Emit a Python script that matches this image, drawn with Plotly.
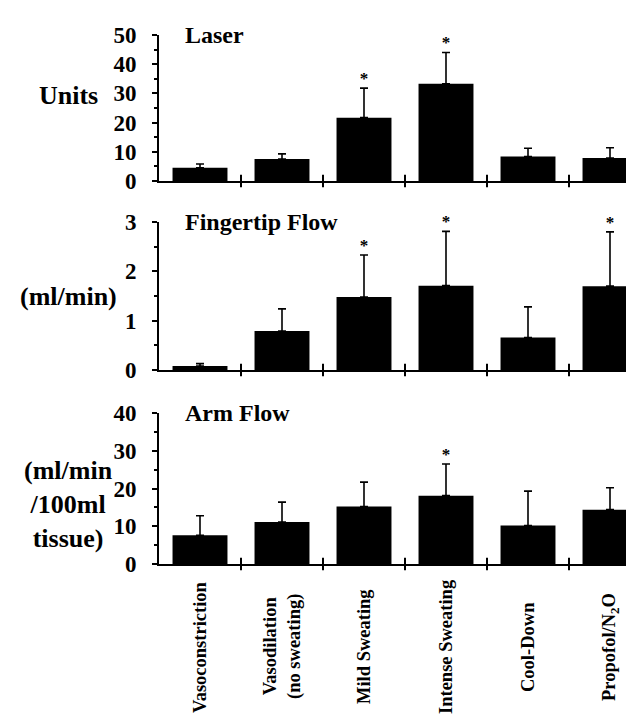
import plotly.graph_objects as go

# ---------------- data ----------------
categories = ["Vasoconstriction", "Vasodilation<br>(no sweating)", "Mild Sweating",
              "Intense Sweating", "Cool-Down", "Propofol/N<sub>2</sub>O"]

laser_mean = [4.5, 7.5, 21.7, 33.3, 8.4, 7.9]
laser_err = [1.3, 1.8, 10.1, 10.7, 2.8, 3.5]
laser_sig = [False, False, True, True, False, False]

finger_mean = [0.08, 0.79, 1.48, 1.71, 0.66, 1.70]
finger_err = [0.05, 0.45, 0.85, 1.10, 0.62, 1.10]
finger_sig = [False, False, True, True, False, True]

arm_mean = [7.6, 11.1, 15.2, 18.1, 10.2, 14.4]
arm_err = [5.2, 5.3, 6.5, 8.4, 9.1, 5.8]
arm_sig = [False, False, False, True, False, False]

panel_titles = ["Laser", "Fingertip Flow", "Arm Flow"]
y_titles = ["Units", "(ml/min)", "(ml/min<br>/100ml<br>tissue)"]
y_tickvals = [[0, 10, 20, 30, 40, 50], [0, 1, 2, 3], [0, 10, 20, 30, 40]]
y_minor = [5, 0.5, 5]

# ---------------- layout helpers ----------------
W, H = 634, 719
FONT = "'Liberation Serif', 'Times New Roman', 'DejaVu Serif', serif"
n = len(categories)
xpos = list(range(n))
boundaries = [i + 0.5 for i in range(n - 1)]

def ypx(px):
    return 1 - px / H

panels = [
    (laser_mean, laser_err, laser_sig, [ypx(173), ypx(27)]),
    (finger_mean, finger_err, finger_sig, [ypx(362), ypx(214)]),
    (arm_mean, arm_err, arm_sig, [ypx(556), ypx(405)]),
]

fig = go.Figure()
layout = dict(
    width=W, height=H,
    margin=dict(l=0, r=0, t=0, b=0),
    paper_bgcolor="white", plot_bgcolor="white",
    showlegend=False,
    font=dict(family=FONT, color="black"),
    annotations=[],
)

x_domain = [151 / W, 1.0]
x_range = [-0.5, -0.5 + (W - 151) / 82.0]

for k, (mean, err, sig, ydom) in enumerate(panels):
    sfx = "" if k == 0 else str(k + 1)
    xa, ya = "x" + sfx, "y" + sfx
    fig.add_trace(go.Bar(
        x=xpos, y=mean, xaxis=xa, yaxis=ya,
        width=0.67, marker=dict(color="black", line=dict(width=0)),
        error_y=dict(type="data", symmetric=False, array=err,
                     arrayminus=[0] * n, color="black", thickness=1.6, width=4),
    ))
    # significance stars
    sx = [x for x, s in zip(xpos, sig) if s]
    sy = [m + e for m, e, s in zip(mean, err, sig) if s]
    fig.add_trace(go.Scatter(
        x=sx, y=sy, xaxis=xa, yaxis=ya, mode="text", text=["*"] * len(sx),
        textposition="top center",
        textfont=dict(family=FONT, size=17, color="black", weight="bold"),
        cliponaxis=False,
    ))
    # category boundary ticks crossing the x axis
    fig.add_trace(go.Scatter(
        x=boundaries, y=[0] * len(boundaries), xaxis=xa, yaxis=ya, mode="markers",
        marker=dict(symbol="line-ns", size=9, line=dict(width=2, color="black")),
        cliponaxis=False,
    ))
    top = y_tickvals[k][-1]
    layout["xaxis" + sfx] = dict(
        domain=x_domain, range=x_range, anchor=ya,
        showline=True, linecolor="black", linewidth=2,
        showticklabels=False, ticks="", showgrid=False, zeroline=False,
        automargin=False, fixedrange=True,
    )
    layout["yaxis" + sfx] = dict(
        domain=ydom, range=[0, top], anchor=xa,
        showline=True, linecolor="black", linewidth=2,
        tickvals=y_tickvals[k], ticks="outside", ticklen=5, tickwidth=2,
        tickcolor="black", ticklabelstandoff=11,
        tickfont=dict(family=FONT, size=23, color="black", weight="bold"),
        minor=dict(dtick=y_minor[k], ticks="outside", ticklen=3, tickwidth=1.5,
                   tickcolor="black"),
        showgrid=False, zeroline=False, automargin=False, fixedrange=True,
    )
    layout["annotations"].append(dict(
        text=panel_titles[k], xref="paper", yref=ya, x=175 / W, y=top,
        xanchor="left", yanchor="middle", showarrow=False,
        font=dict(family=FONT, size=24, color="black", weight="bold"),
    ))

# y-axis titles
title_y = [88, 288, 496]
for k, t in enumerate(y_titles):
    layout["annotations"].append(dict(
        text=t, xref="paper", yref="paper", x=60 / W, y=ypx(title_y[k]),
        xanchor="center", yanchor="middle", showarrow=False, align="center",
        font=dict(family=FONT, size=26, color="black", weight="bold"),
    ))

# category labels under the bottom panel
for i, c in enumerate(categories):
    layout["annotations"].append(dict(
        text=c, xref="x3", yref="paper", x=xpos[i], y=ypx(639),
        xanchor="center", yanchor="middle", showarrow=False, textangle=-90,
        font=dict(family=FONT, size=18.5, color="black", weight="bold"),
    ))

fig.update_layout(**layout)
fig.write_html("out.html")
